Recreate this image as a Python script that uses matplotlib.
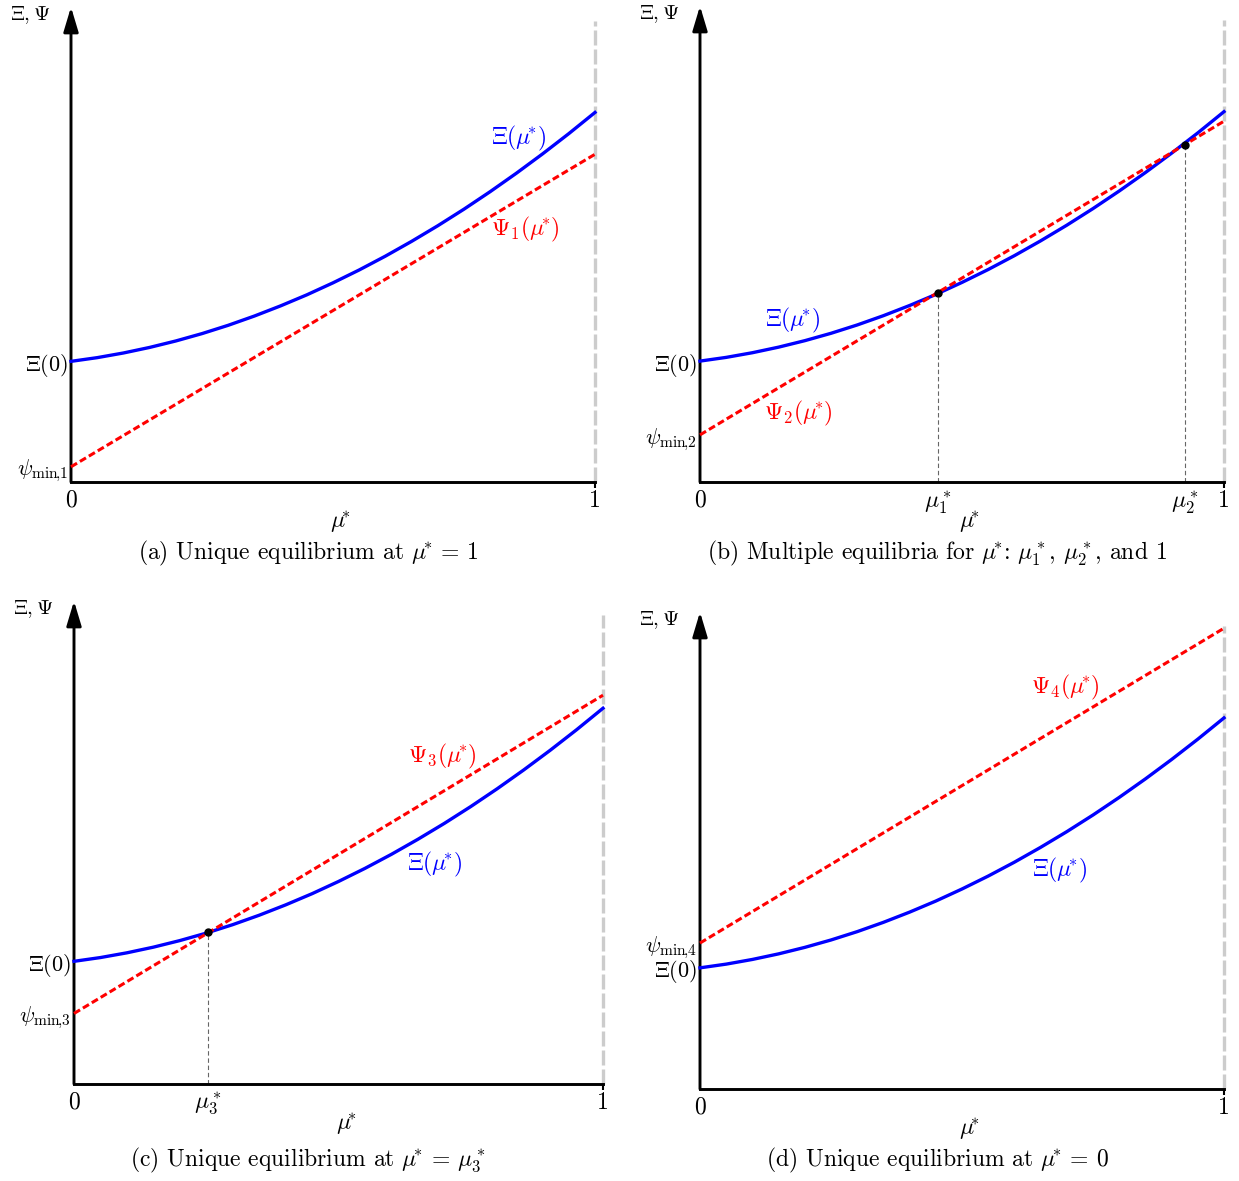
import matplotlib
matplotlib.use("Agg")
import matplotlib.pyplot as plt

plt.rcParams['font.family'] = 'serif'
plt.rcParams['font.serif'] = ['cmr10', 'DejaVu Serif']
plt.rcParams['mathtext.fontset'] = 'cm'
plt.rcParams['axes.unicode_minus'] = False

# curve values (y scaled so arrow tip = 1)
mu = [0.0, 0.05, 0.1, 0.15, 0.2, 0.25, 0.3, 0.35, 0.4, 0.45, 0.5,
      0.55, 0.6, 0.65, 0.7, 0.75, 0.8, 0.85, 0.9, 0.95, 1.0]
xi = [0.2540, 0.2618, 0.2716, 0.2833, 0.2969, 0.3124, 0.3299, 0.3494, 0.3708, 0.3940, 0.4193,
      0.4464, 0.4755, 0.5066, 0.5395, 0.5744, 0.6113, 0.6501, 0.6908, 0.7334, 0.7780]

psi_mu = [0.0, 1.0]
psi_a = [0.032, 0.690]
psi_b = [0.099, 0.758]
psi_c = [0.146, 0.805]
psi_d = [0.306, 0.966]

eq_b_mu = [0.454, 0.926]
eq_b_y = [0.397, 0.708]
eq_c_mu = [0.254]
eq_c_y = [0.315]

M = r'\mu\!^{*}'
psi_labels = [r'$\Psi_1(%s)$' % M, r'$\Psi_2(%s)$' % M, r'$\Psi_3(%s)$' % M, r'$\Psi_4(%s)$' % M]
psimin_labels = [r'$\psi_{\mathrm{min}\!,\!1}$', r'$\psi_{\mathrm{min}\!,\!2}$',
                 r'$\psi_{\mathrm{min}\!,\!3}$', r'$\psi_{\mathrm{min}\!,\!4}$']
captions = [r'(a) Unique equilibrium at $%s$ = 1' % M,
            r'(b) Multiple equilibria for $%s$: $\mu_1^*$, $\mu_2^*$, and 1' % M,
            r'(c) Unique equilibrium at $%s$ = $\mu_3^*$' % M,
            r'(d) Unique equilibrium at $%s$ = 0' % M]

W, H = 1239, 1181
fig = plt.figure(figsize=(W / 100, H / 100), dpi=100)

# panel boxes in pixels: left, bottom(from top), width, height
boxes = [(71, 482, 524, 475), (700, 482, 524, 476), (74, 1084, 529, 483), (700, 1089, 524, 477)]
caption_pos = [(308, 553), (937, 553), (308, 1160), (938, 1160)]
psis = [psi_a, psi_b, psi_c, psi_d]
eqs = [([], []), (eq_b_mu, eq_b_y), (eq_c_mu, eq_c_y), ([], [])]
eq_names = [[], [r'$\mu_1^*$', r'$\mu_2^*$'], [r'$\mu_3^*$'], []]
xi_lab_pos = [(0.855, 0.724), (0.176, 0.340), (0.682, 0.455), (0.687, 0.459)]
psi_lab_pos = [(0.868, 0.531), (0.187, 0.145), (0.696, 0.679), (0.698, 0.841)]

blue = '#0000ff'
red = '#ff0000'
fs = 17

for i in range(4):
    l, b, w, h = boxes[i]
    ax = fig.add_axes([l / W, 1 - b / H, w / W, h / H])
    ax.set_xlim(0, 1)
    ax.set_ylim(0, 1)
    for s in ['top', 'right', 'left']:
        ax.spines[s].set_visible(False)
    ax.spines['bottom'].set_linewidth(2.1)

    # y axis with arrow
    ax.annotate('', xy=(0, 1), xytext=(0, 0),
                arrowprops=dict(arrowstyle='-|>,head_length=1.5,head_width=0.45',
                                color='k', lw=2.1, mutation_scale=10,
                                shrinkA=0, shrinkB=0), annotation_clip=False)
    ax.annotate(r'$\Xi, \Psi$', xy=(0, 1), xytext=(-41, -8), textcoords='offset pixels',
                ha='center', va='center', fontsize=15, annotation_clip=False)

    ax.axvline(1, 0, 0.97, color='#cccccc', lw=2.4, ls=(0, (4.5, 1.2)), zorder=1, clip_on=False)

    ax.plot(mu, xi, color=blue, lw=2.4, zorder=3, clip_on=False)
    ax.plot(psi_mu, psis[i], color=red, lw=2.2, ls=(0, (2.3, 1.1)), zorder=4, clip_on=False)

    em, ey = eqs[i]
    for xm, ym in zip(em, ey):
        ax.plot([xm, xm], [0, ym], color='#666666', lw=0.8, ls=(0, (4, 2.5)), zorder=2)
    if em:
        ax.plot(em, ey, 'o', color='k', ms=5, zorder=5, clip_on=False)

    ax.text(*xi_lab_pos[i], r'$\Xi(%s)$' % M, color=blue, fontsize=fs, ha='center', va='center')
    ax.text(*psi_lab_pos[i], psi_labels[i], color=red, fontsize=fs, ha='center', va='center')

    # x ticks
    ax.set_xticks([1], ['1'])
    ax.set_xticks([0] + em, ['0'] + eq_names[i], minor=True)
    ax.tick_params(axis='x', which='major', length=4, width=1.5, pad=2, labelsize=fs)
    ax.tick_params(axis='x', which='minor', length=0, pad=5, labelsize=fs)

    # y ticks
    ax.set_yticks([xi[0], psis[i][0]], [r'$\Xi(0)$', psimin_labels[i]])
    ax.tick_params(axis='y', length=0, pad=2, labelsize=16)

    ax.annotate(r'$%s$' % M, xy=(0.515, 0), xycoords='axes fraction', xytext=(0, -40),
                textcoords='offset pixels', ha='center', va='center', fontsize=fs)

    cx, cy = caption_pos[i]
    fig.text(cx / W, 1 - cy / H, captions[i], ha='center', va='center', fontsize=fs)

fig.savefig('out.png', dpi=100)
